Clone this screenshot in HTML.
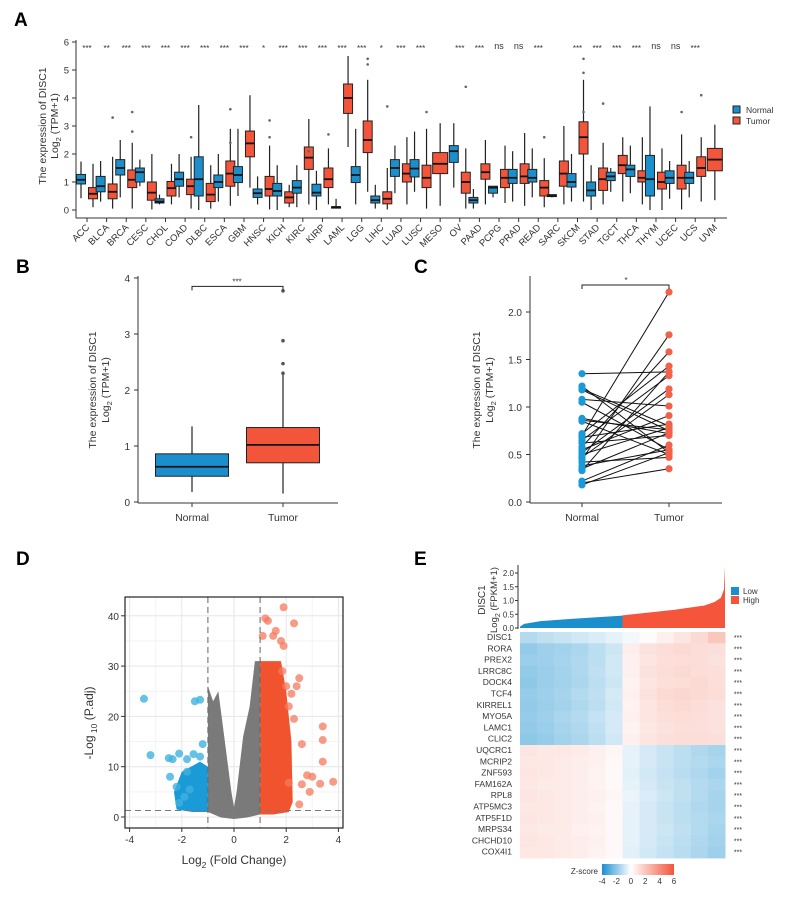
<!DOCTYPE html>
<html><head><meta charset="utf-8"><style>
body{margin:0;background:#fff}
svg{display:block;font-family:"Liberation Sans",Arial,sans-serif}
</style></head><body>
<svg id="fig" width="789" height="906" viewBox="0 0 789 906" xmlns="http://www.w3.org/2000/svg">
<g id="A"></g>
<g id="B"></g>
<g id="C"></g>
<g id="D"></g>
<g id="E"></g>
</svg>
<script>
// ---------- Panel A data ----------
const catsA=["ACC","BLCA","BRCA","CESC","CHOL","COAD","DLBC","ESCA","GBM","HNSC","KICH","KIRC","KIRP","LAML","LGG","LIHC","LUAD","LUSC","MESO","OV","PAAD","PCPG","PRAD","READ","SARC","SKCM","STAD","TGCT","THCA","THYM","UCEC","UCS","UVM"];
const normalA=[[.42,.93,1.08,1.27,1.73],[.3,.65,.85,1.2,1.75],[.45,1.25,1.5,1.8,2.5],[.85,1.0,1.35,1.5,1.8],[.2,.25,.3,.4,.55],[.45,.85,1.1,1.35,2.0],[0,.5,1.1,1.9,3.75],[.3,.8,1.0,1.25,2.0],[.5,.98,1.25,1.55,2.9],[.2,.45,.6,.75,1.2],[0,.5,.68,.95,1.6],[.1,.6,.8,1.05,1.6],[0,.5,.62,.92,1.4],[.05,.07,.1,.12,.4],[.2,.98,1.25,1.55,2.9],[.05,.25,.35,.5,.9],[.6,1.2,1.5,1.8,2.3],[.65,1.18,1.48,1.8,2.8],null,[.8,1.7,2.1,2.3,3.1],[.05,.25,.35,.45,.75],[.45,.6,.8,.85,.85],[.3,.95,1.15,1.45,2.1],[.45,1.0,1.15,1.45,2.2],[.45,.48,.5,.55,.55],[.3,.82,1.0,1.3,2.0],[0,.5,.7,1.0,1.6],[.65,1.05,1.2,1.35,1.5],[.6,1.2,1.45,1.6,2.3],[0,.5,1.1,1.95,3.7],[.4,.95,1.15,1.4,1.75],[.45,.95,1.15,1.35,1.75],null];
const tumorA=[[.1,.4,.58,.8,1.65],[.05,.4,.65,.93,1.9],[.05,.8,1.08,1.43,2.4],[.02,.35,.62,1.0,2.0],[.2,.5,.78,1.02,1.65],[.05,.55,.85,1.1,1.9],[.05,.3,.55,.95,1.6],[.15,.85,1.3,1.75,2.9],[.8,1.9,2.38,2.82,4.1],[.02,.5,.75,1.2,2.3],[.1,.25,.45,.65,.9],[.2,1.45,1.87,2.25,3.25],[.2,.8,1.1,1.5,2.2],[2.25,3.45,4.0,4.5,5.5],[.65,2.05,2.5,3.18,4.65],[.02,.22,.4,.65,1.5],[.2,1.0,1.3,1.65,2.6],[.05,.8,1.15,1.6,2.9],[.15,1.3,1.65,2.05,3.1],[.05,.6,1.0,1.35,2.2],[.2,1.1,1.35,1.65,2.5],[.25,.8,1.15,1.45,2.3],[.15,.95,1.2,1.65,2.75],[.1,.5,.8,1.05,1.85],[.2,.85,1.3,1.75,3.0],[.3,2.0,2.6,3.15,4.65],[.2,.7,1.1,1.5,2.4],[.3,1.3,1.6,1.95,2.6],[.2,1.0,1.15,1.4,2.6],[0,.75,1.0,1.35,2.2],[.02,.75,1.15,1.6,2.7],[.3,1.2,1.5,1.9,2.6],[.35,1.4,1.8,2.2,3.05]];
const sigA=["***","**","***","***","***","***","***","***","***","*","***","***","***","***","***","*","***","***","","***","***","ns","ns","***","","***","***","***","***","ns","ns","***",""];
const outlierCatA=[1,2,2,5,7,7,9,9,11,12,14,14,15,17,19,23,25,25,25,26,30,31];
const outlierValA=[3.3,3.5,2.8,2.6,3.6,2.4,3.2,2.6,2.1,2.7,5.4,5.2,3.7,3.5,4.4,2.6,5.4,4.9,3.5,3.8,3.5,4.1];
const ticksA=[0,1,2,3,4,5,6];
// ---------- Panel B data ----------
const groupsB=["Normal","Tumor"];
const boxesB=[[.18,.46,.63,.86,1.35],[.15,.7,1.02,1.33,2.28]];
const outliersB=[2.3,2.47,2.88,3.77];
const ticksB=[0,1,2,3,4];
// ---------- Panel C data ----------
const normalC=[1.35,1.22,1.19,1.18,1.08,1.05,0.88,0.86,0.85,0.72,0.70,0.68,0.65,0.62,0.58,0.55,0.52,0.50,0.47,0.45,0.42,0.38,0.35,0.33,0.22,0.20,0.18];
const tumorC=[1.37,0.52,0.80,0.75,1.01,0.55,0.72,0.76,0.50,1.43,2.21,0.82,1.33,0.70,1.58,0.91,1.19,0.78,1.13,1.76,0.47,0.55,0.73,1.37,0.60,0.35,0.52];
const ticksC=[0,0.5,1.0,1.5,2.0];
// ---------- Panel D data ----------
const redX=[1.9,2.3,1.2,1.3,1.1,1.5,1.8,1.9,2.5,2.4,2.2,2.3,2.6,3.4,3.4,3.4,3.8,3.0,2.8,3.3,2.9,2.6,2.1,2.5,1.85,2.0,1.6,2.1];
const redY=[41.7,38.5,39.5,39,36,36,35,34,27.6,26,24.5,19.5,14.5,18,15.3,11,7,8,8.3,6.6,5,6.5,6.8,2.5,29,26,37,22];
const blueX=[-3.45,-1.5,-1.3,-3.2,-2.5,-2.35,-2.1,-1.8,-1.55,-1.2,-2.45,-1.8,-2.2,-1.9,-2.1,-1.7,-1.3];
const blueY=[23.5,23,23.3,12.3,11.7,11.5,12.6,11.5,12.5,14.5,8,9,6,4,2.8,5.5,12];
const grayEnvX=[-1,-1,-0.8,-0.6,-0.35,-0.1,0,0.1,0.35,0.6,0.8,1,1,0.5,0,-0.5];
const grayEnvY=[1,26,23,25,15,5,2,5,16,22,31,31,0.5,-0.1,-0.4,-0.1];
const redEnvX=[1,1,1.4,1.8,2.0,2.2,2.25,2.1,1.5];
const redEnvY=[0.5,31,31,31,25,15,3,1,0.5];
const blueEnvX=[-1,-1,-1.3,-2.0,-2.3,-2.2,-1.6];
const blueEnvY=[1,10,11,9,5,1.5,1];
const ticksDx=[-4,-2,0,2,4];
const ticksDy=[0,10,20,30,40];
// ---------- Panel E data ----------
const genesE=["DISC1","RORA","PREX2","LRRC8C","DOCK4","TCF4","KIRREL1","MYO5A","LAMC1","CLIC2","UQCRC1","MCRIP2","ZNF593","FAM162A","RPL8","ATP5MC3","ATP5F1D","MRPS34","CHCHD10","COX4I1"];
const heatZ=[
[-1.8,-1.5,-1.3,-1.1,-0.9,-0.6,-0.3,0.1,0.5,0.9,1.3,2.0],
[-2.6,-2.3,-2.2,-2.0,-1.6,-1.2,0.6,1.0,1.2,1.3,1.2,1.1],
[-2.4,-2.3,-2.1,-1.9,-1.6,-1.1,0.5,0.9,1.1,1.2,1.2,1.0],
[-2.6,-2.4,-2.2,-1.9,-1.5,-1.1,0.5,1.0,1.2,1.3,1.2,1.1],
[-2.7,-2.4,-2.2,-2.0,-1.6,-1.2,0.4,0.9,1.1,1.2,1.3,1.1],
[-2.5,-2.3,-2.1,-1.8,-1.5,-1.0,0.5,1.0,1.3,1.4,1.3,1.2],
[-2.6,-2.4,-2.2,-1.9,-1.6,-1.1,0.4,0.9,1.2,1.3,1.2,1.0],
[-2.5,-2.3,-2.0,-1.8,-1.4,-1.0,0.5,0.9,1.1,1.2,1.1,1.0],
[-2.6,-2.4,-2.1,-1.9,-1.5,-1.0,0.4,0.8,1.0,1.1,1.1,1.0],
[-2.7,-2.5,-2.2,-2.0,-1.6,-1.1,0.5,0.9,1.1,1.2,1.2,1.1],
[0.9,0.8,0.8,0.7,0.5,0.3,-0.6,-1.0,-1.3,-1.6,-1.9,-2.1],
[0.8,0.8,0.7,0.6,0.5,0.2,-0.6,-1.0,-1.3,-1.6,-1.8,-2.0],
[0.9,0.8,0.7,0.6,0.4,0.2,-0.7,-1.1,-1.4,-1.7,-1.9,-2.2],
[0.8,0.7,0.7,0.6,0.4,0.2,-0.6,-1.0,-1.3,-1.5,-1.8,-2.0],
[0.9,0.8,0.7,0.6,0.5,0.3,-0.5,-0.9,-1.2,-1.5,-1.8,-2.1],
[0.8,0.8,0.7,0.6,0.4,0.2,-0.6,-1.0,-1.3,-1.6,-1.9,-2.1],
[0.9,0.8,0.7,0.6,0.5,0.2,-0.6,-1.0,-1.3,-1.6,-1.8,-2.0],
[0.8,0.7,0.7,0.5,0.4,0.2,-0.6,-1.0,-1.2,-1.5,-1.8,-2.1],
[0.9,0.8,0.7,0.6,0.5,0.2,-0.6,-1.0,-1.3,-1.6,-1.9,-2.2],
[0.8,0.8,0.7,0.6,0.4,0.2,-0.7,-1.1,-1.4,-1.7,-2.0,-2.3]];
const barQuantX=[0,0.02,0.1,0.25,0.5,0.5,0.75,0.9,0.95,0.98,0.995,1];
const barQuantY=[0.05,0.15,0.25,0.33,0.45,0.46,0.66,0.82,0.95,1.1,1.4,2.25];
const ticksE=[0,0.5,1.0,1.5,2.0];
const zTicks=[-4,-2,0,2,4,6];

const NS="http://www.w3.org/2000/svg";
const BLUE="#1b8fcc",RED="#f2553a";
function mk(parent,tag,attrs,txt){const e=document.createElementNS(NS,tag);for(const k in attrs)e.setAttribute(k,attrs[k]);if(txt!==undefined)e.textContent=txt;parent.appendChild(e);return e;}
function label(g,x,y,t,size,anchor,name,extra){const e=mk(g,"text",Object.assign({x:x,y:y,"font-size":size,"text-anchor":anchor||"middle",fill:"#333"},extra||{}),t);


return e;}
function box(g,cx,w,b,y,fill,name){
 const gg=mk(g,"g",{});
 
 
 mk(gg,"line",{x1:cx,x2:cx,y1:y(b[0]),y2:y(b[4]),stroke:"#222","stroke-width":1.2});
 mk(gg,"rect",{x:cx-w/2,y:y(b[3]),width:w,height:Math.max(1.5,y(b[1])-y(b[3])),fill:fill,stroke:"#222","stroke-width":1});
 mk(gg,"line",{x1:cx-w/2,x2:cx+w/2,y1:y(b[2]),y2:y(b[2]),stroke:"#111","stroke-width":1.8});
}
// ================= Panel A =================
(function(){
 const g=document.getElementById("A");
 label(g,14,26,"A",19,"start","panel-a-letter",{"font-weight":"bold",fill:"#000"});
 const y=v=>210-28*v, x=i=>87+i*19.62;
 mk(g,"line",{x1:76,x2:76,y1:40,y2:218,stroke:"#333"});
 mk(g,"line",{x1:76,x2:727,y1:218,y2:218,stroke:"#333"});
 ticksA.forEach(t=>{mk(g,"line",{x1:72,x2:76,y1:y(t),y2:y(t),stroke:"#333"});label(g,69,y(t)+3.5,String(t),9.5,"end","y-tick-a");});
 catsA.forEach((c,i)=>{
  mk(g,"line",{x1:x(i),x2:x(i),y1:218,y2:222,stroke:"#333"});
  label(g,x(i)+3,228,c,9.5,"end","x-label-"+c.toLowerCase(),{transform:`rotate(-45 ${x(i)+3} 228)`});
  if(normalA[i])box(g,x(i)-6,9,normalA[i],y,BLUE,"box-normal-"+c.toLowerCase());
  box(g,x(i)+(normalA[i]?6:0),normalA[i]?9:15,tumorA[i],y,RED,"box-tumor-"+c.toLowerCase());
  if(sigA[i])label(g,x(i),sigA[i]==="ns"?49:51,sigA[i],sigA[i]==="ns"?9:8,"middle","sig-"+c.toLowerCase());
 });
 outlierCatA.forEach((ci,k)=>{const c=mk(g,"circle",{cx:x(ci)+6,cy:y(outlierValA[k]),r:1.3,fill:"#666"});
  });
 label(g,46,126,"The expression of DISC1",10.5,"middle","y-axis-title-a",{transform:"rotate(-90 46 126)"});
 const t=label(g,58,126,"",10.5,"middle","y-axis-subtitle-a",{transform:"rotate(-90 58 126)"});
 t.innerHTML='Log<tspan font-size="7.5" dy="3">2</tspan><tspan dy="-3"> (TPM+1)</tspan>';
 const lg=mk(g,"g",{});
 
 
 mk(lg,"rect",{x:733,y:106,width:7,height:7,fill:BLUE,stroke:"#222"});
 mk(lg,"rect",{x:733,y:117,width:7,height:7,fill:RED,stroke:"#222"});
 label(lg,746,113,"Normal",8.5,"start","legend-normal");
 label(lg,746,124,"Tumor",8.5,"start","legend-tumor");
})();
// ================= Panel B =================
(function(){
 const g=document.getElementById("B");
 label(g,16,273,"B",19,"start","panel-b-letter",{"font-weight":"bold",fill:"#000"});
 const y=v=>502-56*v, xs=[192,283];
 mk(g,"line",{x1:138,x2:138,y1:276,y2:503,stroke:"#333"});
 mk(g,"line",{x1:138,x2:338,y1:503,y2:503,stroke:"#333"});
 ticksB.forEach(t=>{mk(g,"line",{x1:134,x2:138,y1:y(t),y2:y(t),stroke:"#333"});label(g,130,y(t)+4,String(t),10,"end","y-tick-b");});
 groupsB.forEach((n,i)=>{mk(g,"line",{x1:xs[i],x2:xs[i],y1:503,y2:507,stroke:"#333"});label(g,xs[i],521,n,10.5,"middle","x-label-b-"+n.toLowerCase());
  box(g,xs[i],73,boxesB[i],y,i?RED:BLUE,"box-b-"+n.toLowerCase());});
 outliersB.forEach(o=>{const c=mk(g,"circle",{cx:283,cy:y(o),r:1.8,fill:"#555"});});
 mk(g,"path",{d:`M192 ${y(3.78)} V${y(3.85)} H283 V${y(3.78)}`,fill:"none",stroke:"#222"});
 label(g,237,y(3.85)-2,"***",8,"middle","sig-b");
 label(g,96,390,"The expression of DISC1",10.5,"middle","y-axis-title-b",{transform:"rotate(-90 96 390)"});
 const t=label(g,109,390,"",10.5,"middle","y-axis-subtitle-b",{transform:"rotate(-90 109 390)"});
 t.innerHTML='Log<tspan font-size="7.5" dy="3">2</tspan><tspan dy="-3"> (TPM+1)</tspan>';
})();
// ================= Panel C =================
(function(){
 const g=document.getElementById("C");
 label(g,414,273,"C",19,"start","panel-c-letter",{"font-weight":"bold",fill:"#000"});
 const y=v=>502-95*v, xn=582, xt=669;
 mk(g,"line",{x1:530,x2:530,y1:276,y2:503,stroke:"#333"});
 mk(g,"line",{x1:530,x2:722,y1:503,y2:503,stroke:"#333"});
 ticksC.forEach(t=>{mk(g,"line",{x1:526,x2:530,y1:y(t),y2:y(t),stroke:"#333"});label(g,522,y(t)+4,t.toFixed(1),10,"end","y-tick-c");});
 [["Normal",xn],["Tumor",xt]].forEach(p=>{mk(g,"line",{x1:p[1],x2:p[1],y1:503,y2:507,stroke:"#333"});label(g,p[1],521,p[0],10.5,"middle","x-label-c-"+p[0].toLowerCase());});
 normalC.forEach((v,i)=>{const l=mk(g,"line",{x1:xn,y1:y(v),x2:xt,y2:y(tumorC[i]),stroke:"#111","stroke-width":1});
  });
 normalC.forEach(v=>{const c=mk(g,"circle",{cx:xn,cy:y(v),r:3.6,fill:"#1a9bd7"});});
 tumorC.forEach(v=>{const c=mk(g,"circle",{cx:xt,cy:y(v),r:3.6,fill:"#f0624a"});});
 mk(g,"path",{d:`M${xn} 289 V285 H${xt} V289`,fill:"none",stroke:"#222"});
 label(g,626,283,"*",8,"middle","sig-c");
 label(g,480,390,"The expression of DISC1",10.5,"middle","y-axis-title-c",{transform:"rotate(-90 480 390)"});
 const t=label(g,493,390,"",10.5,"middle","y-axis-subtitle-c",{transform:"rotate(-90 493 390)"});
 t.innerHTML='Log<tspan font-size="7.5" dy="3">2</tspan><tspan dy="-3"> (TPM+1)</tspan>';
})();
// ================= Panel D =================
(function(){
 const g=document.getElementById("D");
 label(g,16,565,"D",19,"start","panel-d-letter",{"font-weight":"bold",fill:"#000"});
 const x=v=>234+26.1*v, y=v=>817-5.03*v;
 mk(g,"rect",{x:125,y:597,width:218,height:231,fill:"#fff"});
 [-3,-1,1,3].forEach(v=>mk(g,"line",{x1:x(v),x2:x(v),y1:597,y2:828,stroke:"#f3f3f3"}));
 [5,15,25,35].forEach(v=>mk(g,"line",{x1:125,x2:343,y1:y(v),y2:y(v),stroke:"#f3f3f3"}));
 ticksDx.forEach(v=>mk(g,"line",{x1:x(v),x2:x(v),y1:597,y2:828,stroke:"#e6e6e6"}));
 ticksDy.forEach(v=>mk(g,"line",{x1:125,x2:343,y1:y(v),y2:y(v),stroke:"#e6e6e6"}));
 const poly=(X,Y,fill,name)=>{const p=mk(g,"polygon",{points:X.map((v,i)=>x(v)+","+y(Y[i])).join(" "),fill:fill});};
 poly(grayEnvX,grayEnvY,"#7a7a7a","gray-cloud");
 poly(redEnvX,redEnvY,"#f2532f","red-cloud");
 poly(blueEnvX,blueEnvY,"#1a9ad6","blue-cloud");
 redX.forEach((v,i)=>{const c=mk(g,"circle",{cx:x(v),cy:y(redY[i]),r:4,fill:"#f47a5f","fill-opacity":0.75});});
 blueX.forEach((v,i)=>{const c=mk(g,"circle",{cx:x(v),cy:y(blueY[i]),r:4,fill:"#3fb1e0","fill-opacity":0.8});});
 [-1,1].forEach(v=>mk(g,"line",{x1:x(v),x2:x(v),y1:597,y2:828,stroke:"#666","stroke-dasharray":"6,4"}));
 mk(g,"line",{x1:125,x2:343,y1:y(1.3),y2:y(1.3),stroke:"#777","stroke-dasharray":"6,4"});
 mk(g,"rect",{x:125,y:597,width:218,height:231,fill:"none",stroke:"#222","stroke-width":1.2});
 ticksDx.forEach(v=>{mk(g,"line",{x1:x(v),x2:x(v),y1:828,y2:832,stroke:"#333"});label(g,x(v),843,String(v),10,"middle","x-tick-d");});
 ticksDy.forEach(v=>{mk(g,"line",{x1:121,x2:125,y1:y(v),y2:y(v),stroke:"#333"});label(g,119,y(v)+4,String(v),10,"end","y-tick-d");});
 const xt=label(g,234,864,"",12,"middle","x-axis-title-d");
 xt.innerHTML='Log<tspan font-size="8.5" dy="4">2</tspan><tspan dy="-4"> (Fold Change)</tspan>';
 const yt=label(g,93,723,"",12,"middle","y-axis-title-d",{transform:"rotate(-90 93 723)"});
 yt.innerHTML='-Log<tspan font-size="8.5" dy="4"> 10</tspan><tspan dy="-4"> (P.adj)</tspan>';
})();
// ================= Panel E =================
(function(){
 const g=document.getElementById("E");
 label(g,414,565,"E",19,"start","panel-e-letter",{"font-weight":"bold",fill:"#000"});
 const y=v=>628-27.5*v, x0=520, x1=725, W=x1-x0;
 mk(g,"line",{x1:518,x2:518,y1:565,y2:629,stroke:"#333"});
 ticksE.forEach(t=>{mk(g,"line",{x1:515,x2:518,y1:y(t),y2:y(t),stroke:"#333"});label(g,514,y(t)+3,t.toFixed(1),8,"end","y-tick-e");});
 const pts=barQuantX.map((q,i)=>[x0+q*W,y(barQuantY[i])]);
 const lowPts=pts.slice(0,5), highPts=pts.slice(5);
 const pl=mk(g,"polygon",{points:`${x0},${y(0)} `+lowPts.map(p=>p.join(",")).join(" ")+` ${lowPts[lowPts.length-1][0]},${y(0)}`,fill:"#1a8fcc"});
 
 const ph=mk(g,"polygon",{points:`${highPts[0][0]},${y(0)} `+highPts.map(p=>p.join(",")).join(" ")+` ${x1},${y(0)}`,fill:"#f5553a"});
 
 label(g,485,600,"DISC1",10,"middle","y-axis-title-e",{transform:"rotate(-90 485 600)"});
 const st=label(g,497,600,"",9.5,"middle","y-axis-subtitle-e",{transform:"rotate(-90 497 600)"});
 st.innerHTML='Log<tspan font-size="7" dy="3">2</tspan><tspan dy="-3"> (FPKM+1)</tspan>';
 const lg=mk(g,"g",{});
 mk(lg,"rect",{x:731,y:587,width:8,height:8,fill:"#1a8fcc"});mk(lg,"rect",{x:731,y:596,width:8,height:8,fill:"#f5553a"});
 label(lg,743,594,"Low",8,"start","legend-low");label(lg,743,603,"High",8,"start","legend-high");
 // heatmap
 const col=z=>{let r,gg,b;if(z<0){const t=Math.min(1,-z/5.5);r=255+(26-255)*t;gg=255+(143-255)*t;b=255+(208-255)*t;}else{const t=Math.min(1,z/6);r=255+(242-255)*t;gg=255+(85-255)*t;b=255+(58-255)*t;}return `rgb(${r|0},${gg|0},${b|0})`;};
 const top=632, rh=11.3, nc=heatZ[0].length, cw=W/nc;
 genesE.forEach((gn,r)=>{
  heatZ[r].forEach((z,c)=>{const rc=mk(g,"rect",{x:x0+c*cw,y:top+r*rh,width:cw+0.5,height:rh+0.4,fill:col(z)});
   });
  label(g,512,top+r*rh+8,gn,8.5,"end","gene-label-"+gn.toLowerCase());
  label(g,738,top+r*rh+8,"***",7,"middle","sig-e");
 });
 const gr=mk(g,"defs",{});
 const lgd=mk(gr,"linearGradient",{id:"zg",x1:0,x2:1,y1:0,y2:0});
 [[0,"#1a8fd0"],[0.4,"#ffffff"],[1,"#f2553a"]].forEach(s=>mk(lgd,"stop",{offset:s[0],"stop-color":s[1]}));
 const cb=mk(g,"rect",{x:602,y:864,width:72,height:11,fill:"url(#zg)"});
 
 label(g,598,874,"Z-score",8,"end","colorbar-title");
 zTicks.forEach(z=>label(g,602+(z+4)/10*72,884,String(z),8,"middle","colorbar-tick"));
})();
</script>
</body></html>
